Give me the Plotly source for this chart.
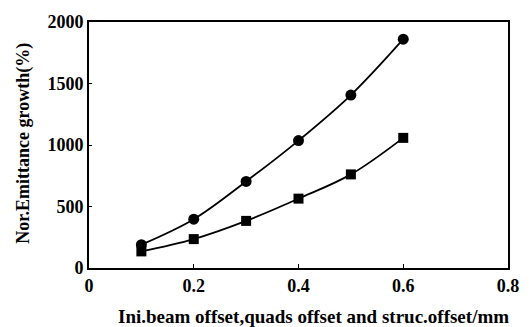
import plotly.graph_objects as go

x_vals = [0.1, 0.2, 0.3, 0.4, 0.5, 0.6]
circle_series = [190, 397, 704, 1036, 1406, 1860]
square_series = [135, 235, 383, 564, 761, 1058]
x_ticks = [0, 0.2, 0.4, 0.6, 0.8]
x_tick_labels = ["0", "0.2", "0.4", "0.6", "0.8"]
y_ticks = [0, 500, 1000, 1500, 2000]
y_tick_labels = ["0", "500", "1000", "1500", "2000"]
x_title = "Ini.beam offset,quads offset and struc.offset/mm"
y_title = "Nor.Emittance growth(%)"

font_family = "Liberation Serif"

fig = go.Figure()
fig.add_trace(go.Scatter(
    x=x_vals, y=circle_series, mode="lines+markers",
    line=dict(color="black", width=1.8, shape="spline"),
    marker=dict(symbol="circle", size=11, color="black"),
    showlegend=False))
fig.add_trace(go.Scatter(
    x=x_vals, y=square_series, mode="lines+markers",
    line=dict(color="black", width=1.8, shape="spline"),
    marker=dict(symbol="square", size=10, color="black"),
    showlegend=False))

fig.update_layout(
    width=531, height=327,
    margin=dict(l=89, r=18, t=21, b=59),
    paper_bgcolor="white", plot_bgcolor="white",
    font=dict(family=font_family, color="black"),
    xaxis=dict(
        range=[0, 0.8], tickvals=x_ticks, ticktext=x_tick_labels,
        showgrid=False, zeroline=False, showline=True, mirror=True,
        linecolor="black", linewidth=2, ticks="inside", ticklen=4,
        tickcolor="black",
        tickfont=dict(family=font_family, size=18, color="black", weight="bold"),
    ),
    yaxis=dict(
        range=[0, 2000], tickvals=y_ticks, ticktext=y_tick_labels,
        showgrid=False, zeroline=False, showline=True, mirror=True,
        linecolor="black", linewidth=2, ticks="inside", ticklen=3,
        tickcolor="black",
        tickfont=dict(family=font_family, size=18, color="black", weight="bold"),
    ),
    annotations=[
        dict(text=x_title, xref="paper", yref="paper", x=(316 - 89) / 424,
             y=(327 - 59 - 317) / 247, xanchor="center", yanchor="middle",
             showarrow=False,
             font=dict(family=font_family, size=19, color="black", weight="bold")),
        dict(text=y_title, xref="paper", yref="paper", x=(22 - 89) / 424,
             y=(268 - 142.5) / 247, xanchor="center", yanchor="middle",
             showarrow=False, textangle=-90,
             font=dict(family=font_family, size=18, color="black", weight="bold")),
    ],
)

fig.write_html("out.html")
